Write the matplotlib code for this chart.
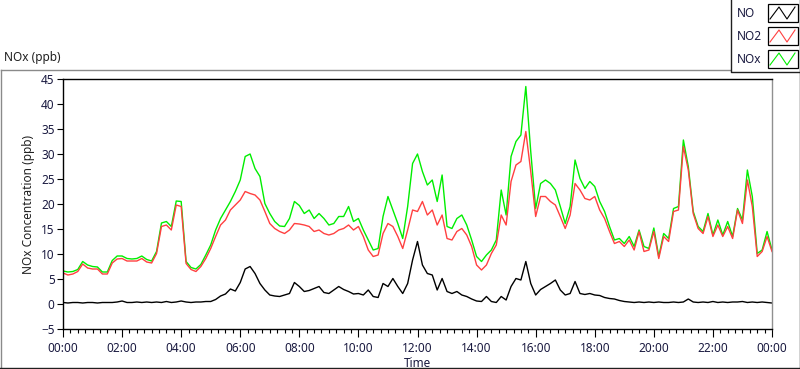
import numpy as np
import matplotlib
matplotlib.use("Agg")
import matplotlib.pyplot as plt
from matplotlib.ticker import MultipleLocator, FuncFormatter

plt.rcParams['font.family'] = ['Noto Sans', 'DejaVu Sans']

# 10-minute readings, 00:00 .. 24:00
no2 = [6.2, 5.8, 6.0, 6.5, 8.0, 7.2,
       7.0, 7.0, 6.0, 6.0, 8.2, 9.0,
       9.1, 8.6, 8.6, 8.6, 9.1, 8.4,
       8.2, 10.1, 15.5, 15.8, 14.8, 19.8,
       19.5, 8.1, 6.9, 6.5, 7.5, 9.1,
       11.1, 13.5, 15.8, 16.8, 18.8, 19.8,
       20.8, 22.5, 22.1, 21.8, 20.8, 18.5,
       16.1, 15.1, 14.5, 14.1, 14.8, 16.1,
       16.0, 15.8, 15.5, 14.5, 14.8, 14.1,
       13.8, 14.1, 14.8, 15.1, 15.8, 14.8,
       15.5, 13.5, 10.8, 9.5, 9.8, 14.1,
       16.1, 15.5, 13.5, 11.1, 14.8, 18.8,
       18.5, 20.5, 17.8, 18.8, 15.8, 17.8,
       13.1, 12.8, 14.5, 15.1, 13.8, 11.5,
       7.8, 6.8, 7.8, 10.1, 11.8, 17.8,
       15.8, 24.5, 27.8, 28.5, 34.5, 26.5,
       17.5, 21.5, 21.5, 20.5, 19.8, 17.5,
       15.1, 17.8, 24.1, 22.8, 21.1, 20.8,
       21.5, 18.8, 17.1, 14.5, 12.1, 12.5,
       11.5, 12.8, 10.8, 14.5, 10.5, 10.8,
       14.5, 9.1, 13.5, 12.5, 18.5, 18.8,
       31.5, 26.8, 18.1, 15.1, 14.1, 17.5,
       13.5, 15.8, 13.5, 15.5, 13.1, 18.8,
       16.1, 24.8, 19.5, 9.5, 10.5, 13.5,
       10.5]

nox = [6.6, 6.4, 6.5, 6.9, 8.5, 7.8,
       7.5, 7.4, 6.4, 6.4, 8.7, 9.6,
       9.6, 9.1, 9.0, 9.1, 9.6, 8.9,
       8.6, 10.5, 16.2, 16.5, 15.5, 20.6,
       20.5, 8.5, 7.3, 7.0, 7.9, 9.8,
       11.8, 14.8, 17.1, 18.8, 20.5, 22.5,
       24.8, 29.5, 30.0, 27.1, 25.5, 20.1,
       18.1, 16.5, 15.6, 15.5, 17.1, 20.5,
       19.7, 18.1, 18.8, 17.1, 18.1, 17.1,
       15.8, 16.1, 17.5, 17.5, 19.5, 16.5,
       17.1, 14.8, 12.8, 10.8, 11.1, 17.5,
       21.5, 18.8, 16.1, 13.1, 19.5, 28.1,
       30.0, 26.5, 23.8, 24.8, 20.5, 25.8,
       15.5, 15.1, 17.1, 17.8, 15.8, 12.8,
       9.5, 8.5, 9.8, 10.8, 12.8, 22.8,
       17.8, 29.5, 32.5, 33.8, 43.5, 30.5,
       19.1, 24.1, 24.8, 24.1, 22.8, 19.5,
       16.1, 19.5, 28.8, 25.1, 23.1, 24.5,
       23.5, 20.5, 18.5, 15.5, 12.8, 13.1,
       12.1, 13.5, 11.5, 14.8, 11.5, 11.1,
       15.2, 9.5, 14.1, 13.1, 19.1, 19.5,
       32.8, 27.5, 18.5, 15.5, 14.5, 18.1,
       13.8, 16.8, 13.8, 16.5, 13.5, 19.1,
       16.8, 26.8, 21.5, 10.1, 10.8, 14.5,
       10.8]

no = [0.3, 0.2, 0.3, 0.3, 0.2, 0.3,
      0.3, 0.2, 0.3, 0.3, 0.3, 0.4,
      0.6, 0.3, 0.3, 0.4, 0.3, 0.4,
      0.3, 0.4, 0.3, 0.5, 0.3, 0.4,
      0.6, 0.4, 0.3, 0.4, 0.4, 0.5,
      0.5, 0.9, 1.6, 2.0, 3.0, 2.6,
      4.3, 7.0, 7.5, 6.1, 4.1, 2.8,
      1.8, 1.6, 1.5, 1.8, 2.1, 4.3,
      3.5, 2.5, 2.7, 3.1, 3.5, 2.3,
      2.1, 2.8, 3.5, 2.9, 2.5, 2.0,
      2.1, 1.8, 2.8, 1.5, 1.3, 4.1,
      3.5, 5.1, 3.5, 2.1, 4.1, 8.8,
      12.5, 7.8, 6.1, 5.8, 2.8, 5.1,
      2.5, 2.1, 2.5, 1.8, 1.5, 1.0,
      0.6, 0.5, 1.5, 0.5, 0.3, 1.5,
      0.8, 3.5, 5.1, 4.8, 8.5, 4.1,
      1.8, 2.9, 3.5, 4.1, 4.8, 2.8,
      1.8, 2.1, 4.5, 2.1, 1.9, 2.1,
      1.8, 1.7, 1.3, 1.1, 1.0, 0.7,
      0.5, 0.4, 0.3, 0.4, 0.3, 0.4,
      0.3, 0.4, 0.3, 0.3, 0.4, 0.3,
      0.4, 1.0, 0.4, 0.3, 0.4, 0.3,
      0.5, 0.3, 0.4, 0.3, 0.4, 0.4,
      0.5, 0.3, 0.4, 0.3, 0.4, 0.3,
      0.2]

series_names = ["NO", "NO2", "NOx"]
series_colors = ["#000000", "#ff4040", "#00ee00"]
hours = np.arange(len(no2)) / 6.0

W, H = 800, 369
fig = plt.figure(figsize=(W / 100, H / 100), dpi=100)
fig.patch.set_facecolor("white")

L, R, T, B = 63, 772, 79, 329
ax = fig.add_axes([L / W, 1 - B / H, (R - L) / W, (B - T) / H])
ax.plot(hours, nox, color=series_colors[2], lw=1.0)
ax.plot(hours, no2, color=series_colors[1], lw=1.0)
ax.plot(hours, no, color=series_colors[0], lw=1.0)
ax.set_xlim(0, 24)
ax.set_ylim(-5, 45)
ax.yaxis.set_major_locator(MultipleLocator(5))
ax.xaxis.set_major_locator(MultipleLocator(2))
ax.xaxis.set_minor_locator(MultipleLocator(0.25))
ax.xaxis.set_major_formatter(FuncFormatter(lambda v, p: "%02d:00" % (int(round(v)) % 24)))
tc = "#1a1a40"
ax.tick_params(axis="y", length=4, width=0.8, color="black", labelsize=8.5, labelcolor=tc, pad=2)
ax.tick_params(axis="x", which="major", length=6, width=0.8, color="black", labelsize=8.5, labelcolor=tc, pad=3)
ax.tick_params(axis="x", which="minor", length=3, width=0.8, color="black")
for s in ["top", "left", "bottom"]:
    ax.spines[s].set_color("black")
    ax.spines[s].set_linewidth(1.0)
ax.spines["right"].set_color("#909090")
ax.spines["right"].set_linewidth(1.0)
ax.set_xlabel("Time", fontsize=8.5, color=tc, labelpad=2)
ax.set_ylabel("NOx Concentration (ppb)", fontsize=8.5, color="#202020", labelpad=4)

# overlay in pixel coords
ov = fig.add_axes([0, 0, 1, 1], zorder=-1)
ov.set_xlim(0, W)
ov.set_ylim(H, 0)
ov.axis("off")
ov.plot([0.5, 730], [69.5, 69.5], color="#8a8a8a", lw=1.0)
ov.plot([0.5, 0.5], [69.5, 368], color="#8a8a8a", lw=1.0)
ov.plot([0, 800], [368, 368], color="#202020", lw=1.0)
ov.plot([799.5, 799.5], [69.5, 368], color="#202020", lw=1.0)
ov.text(4, 58, "NOx (ppb)", fontsize=8.5, color="#202020", va="center", ha="left")

ov2 = fig.add_axes([0, 0, 1, 1], zorder=5)
ov2.set_xlim(0, W)
ov2.set_ylim(H, 0)
ov2.axis("off")
ov2.add_patch(plt.Rectangle((730.5, 0), 69, 72, facecolor="white", edgecolor="none"))
ov2.plot([730.5, 730.5, 800], [0, 72, 72], color="#202020", lw=1.0)
ov2.plot([799.5, 799.5], [0, 72], color="#202020", lw=1.0)
rows = [(4, 22), (27, 45), (50, 68)]
for name, col, (y0, y1) in zip(series_names, series_colors, rows):
    ov2.text(737, (y0 + y1) / 2 + 0.5, name, fontsize=8.5, color=tc, va="center", ha="left")
    ov2.add_patch(plt.Rectangle((767.5, y0), 30, y1 - y0, facecolor="white", edgecolor="black", lw=0.9))
    ov2.plot([770, 779, 787, 795], [y1 - 3, y0 + 3, y1 - 3, y0 + 3], color=col, lw=0.8)

fig.savefig("out.png", dpi=100)
